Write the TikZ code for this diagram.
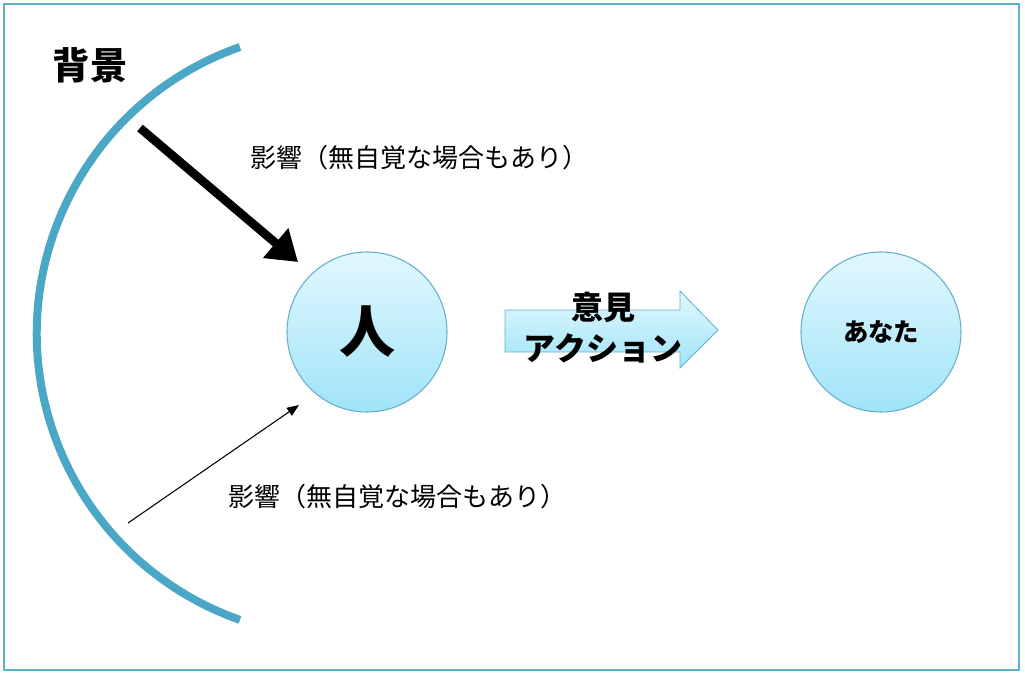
\documentclass[tikz,border=0pt]{standalone}
\usepackage{fontspec}
\setmainfont{Noto Sans CJK JP}
\usetikzlibrary{arrows.meta}
\definecolor{frameC}{RGB}{92,178,204}
\definecolor{arcC}{RGB}{74,168,198}
\definecolor{topC}{RGB}{226,247,254}
\definecolor{botC}{RGB}{160,228,248}
\definecolor{edgeC}{RGB}{100,176,204}
\tikzset{
  bubble/.style={circle, draw=edgeC, line width=0.8pt, top color=topC, bottom color=botC, minimum size=120pt, inner sep=0pt},
  lbl/.style={font=\fontsize{19.5}{22}\selectfont, anchor=west, inner sep=0pt},
}
\begin{document}
\begin{tikzpicture}[x=0.75pt,y=-0.75pt]
\useasboundingbox (0,0) rectangle (1025,676);
\fill[white] (0,0) rectangle (1025,676);
\draw[frameC, line width=1.2pt] (4,4) rectangle (1019,670);
% arc (background)
\draw[arcC, line width=6pt] (240,47) arc[start angle=-109.3, end angle=-250.7, radius=303.5];
% circles
\node[bubble] (hito) at (367,332) {\bfseries\fontsize{42}{46}\selectfont 人};
\node[bubble] (anata) at (881,332) {\bfseries\fontsize{19}{22}\selectfont あなた};
% block arrow
\path[draw=edgeC, line width=0.6pt, top color=topC, bottom color=botC]
  (505,310) -- (680,310) -- (680,291) -- (718,330) -- (680,368) -- (680,352) -- (505,352) -- cycle;
\node[font=\bfseries\fontsize{24}{31}\selectfont, align=center, inner sep=0pt] (op) at (603,328) {意見\\アクション};
% labels
\node[font=\bfseries\fontsize{28}{30}\selectfont, inner sep=0pt] (haikei) at (90,65) {背景};
\node[lbl] (inf1) at (250,158) {影響（無自覚な場合もあり）};
\node[lbl] (inf2) at (228,497) {影響（無自覚な場合もあり）};
% arrows
\coordinate (s1) at (140,128);
\coordinate (e1) at (298,262);
\coordinate (s2) at (128,523);
\coordinate (e2) at (299,405);
\draw[line width=6.5pt, -{Triangle[length=22pt,width=28pt]}] (s1) -- (e1);
\draw[line width=0.8pt, -{Triangle[length=9pt,width=7pt]}] (s2) -- (e2);
\end{tikzpicture}
\end{document}
